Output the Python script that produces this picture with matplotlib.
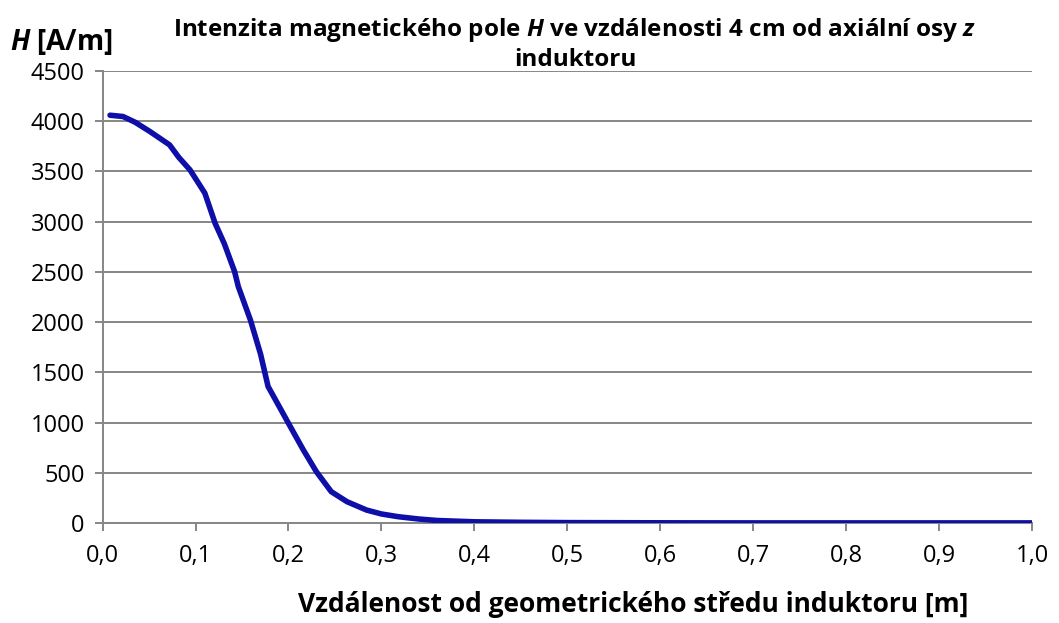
import matplotlib
matplotlib.use("Agg")
import matplotlib.pyplot as plt
from matplotlib.ticker import FuncFormatter

# Magnetic field intensity H vs. distance from the inductor centre
distance_m = [0.008, 0.022, 0.035, 0.051, 0.072, 0.082, 0.094, 0.110, 0.121,
              0.131, 0.142, 0.146, 0.159, 0.170, 0.178, 0.190, 0.202, 0.216,
              0.230, 0.246, 0.263, 0.284, 0.300, 0.318, 0.340, 0.360, 0.400,
              0.450, 0.500, 0.600, 0.700, 0.800, 0.900, 1.000]
field_H = [4060, 4047, 3990, 3897, 3765, 3640, 3516, 3284, 2985,
           2780, 2503, 2354, 2022, 1680, 1360, 1160, 959, 727,
           511, 312, 212, 129, 90, 63, 40, 25, 12,
           7, 4, 2, 1, 1, 1, 1]

x_ticks = [i / 10 for i in range(11)]
y_ticks = list(range(0, 4501, 500))

plt.rcParams["font.family"] = ["Open Sans", "DejaVu Sans"]
plt.rcParams["mathtext.fontset"] = "custom"
plt.rcParams["mathtext.it"] = "Open Sans:italic:bold"
plt.rcParams["mathtext.rm"] = "Open Sans:bold"
plt.rcParams["mathtext.bf"] = "Open Sans:bold"

fig = plt.figure(figsize=(10.59, 6.23), dpi=100)
ax = fig.add_axes([0.0969, 0.1605, 0.8776, 0.7255])

grid_col = "#868686"
ax.plot(distance_m, field_H, color="#0E0EA8", lw=4.0, solid_capstyle="round",
        solid_joinstyle="round", zorder=3)

ax.set_xlim(0, 1.0)
ax.set_ylim(0, 4500)
ax.set_xticks(x_ticks)
ax.set_yticks(y_ticks)
ax.xaxis.set_major_formatter(FuncFormatter(lambda v, p: f"{v:.1f}".replace(".", ",")))
ax.yaxis.set_major_formatter(FuncFormatter(lambda v, p: f"{int(v)}"))
ax.grid(axis="y", color=grid_col, lw=1.4)
ax.set_axisbelow(True)
for s in ["top", "right"]:
    ax.spines[s].set_visible(False)
for s in ["left", "bottom"]:
    ax.spines[s].set_color(grid_col)
    ax.spines[s].set_linewidth(1.4)
ax.tick_params(axis="both", direction="out", color=grid_col, width=1.4, length=6,
               labelsize=17, labelcolor="black")
ax.tick_params(axis="x", pad=9)
ax.tick_params(axis="y", pad=7)

fig.text(0.543, 0.929,
         "Intenzita magnetického pole $H$ ve vzdálenosti 4 cm od axiální osy $z$\ninduktoru",
         ha="center", va="center", fontsize=17.5, fontweight="bold", linespacing=1.25)
fig.text(0.009, 0.933, "$H$ [A/m]", ha="left", va="center", fontsize=20,
         fontweight="bold")
fig.text(0.598, 0.029, "Vzdálenost od geometrického středu induktoru [m]",
         ha="center", va="center", fontsize=19, fontweight="bold")

fig.savefig("out.png", dpi=100)
